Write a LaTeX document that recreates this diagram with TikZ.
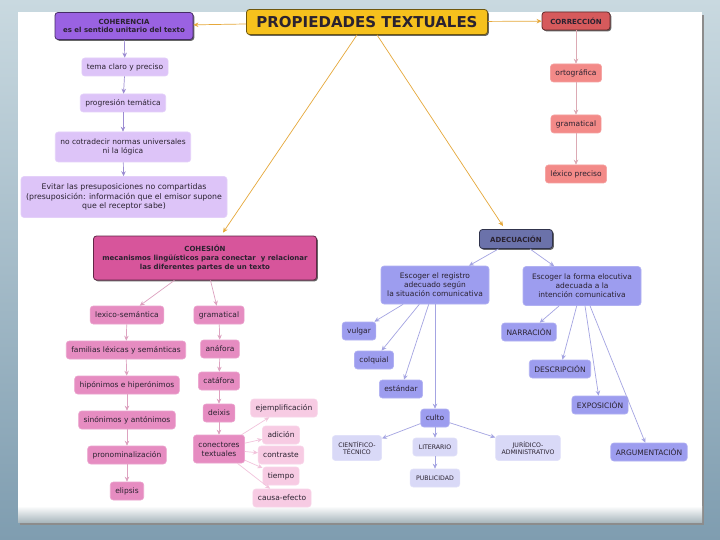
\documentclass[tikz,border=0pt]{standalone}
\usepackage{fontspec}
\setmainfont{DejaVu Sans}
\usetikzlibrary{shadows,calc,arrows.meta}

\definecolor{fondoA}{HTML}{C9D9E0}
\definecolor{fondoB}{HTML}{7F9DB0}
\definecolor{amarillo}{HTML}{F6C11D}
\definecolor{naranja}{HTML}{E6A83A}
\definecolor{morado}{HTML}{9A62E2}
\definecolor{moradoC}{HTML}{DDC4F8}
\definecolor{flechaM}{HTML}{9C8CD2}
\definecolor{rojo}{HTML}{D65A5C}
\definecolor{salmon}{HTML}{F38A88}
\definecolor{flechaR}{HTML}{DCAAB4}
\definecolor{rosa}{HTML}{D7559B}
\definecolor{rosaM}{HTML}{E68CC1}
\definecolor{rosaC}{HTML}{F7CBE3}
\definecolor{flechaP}{HTML}{DDA2C0}
\definecolor{pizarra}{HTML}{6B72AA}
\definecolor{azulM}{HTML}{9D9DEF}
\definecolor{azulC}{HTML}{D9D9F7}
\definecolor{flechaA}{HTML}{A4A4E2}
\definecolor{tinta}{HTML}{2A2230}

\begin{document}
\begin{tikzpicture}[x=1pt,y=-1pt,>={Stealth[length=5pt,width=4.5pt]},
  caja/.style={rounded corners=3pt, align=center, inner xsep=5pt, inner ysep=2pt, text=tinta,
    minimum height=18pt, font=\fontsize{7.5}{9}\selectfont},
  jefe/.style={caja, draw=#1!45!black, line width=0.8pt, fill=#1,
    drop shadow={shadow xshift=1.3pt, shadow yshift=-1.3pt, fill=black!75, opacity=0.8},
    font=\fontsize{7}{8.6}\selectfont\bfseries},
  hoja/.style={caja, fill=#1, draw=#1!80!white, line width=0.6pt},
  mini/.style={hoja=azulC, inner xsep=6pt, font=\fontsize{6.2}{7.4}\selectfont},
  flecha/.style={->, draw=#1, line width=0.7pt}
]
% fondo y hoja blanca
\shade[top color=fondoA, bottom color=fondoB] (0,0) rectangle (720,540);
\fill[black!45] (20,15) rectangle (704,525);
\fill[white] (18,12) rectangle (702,522);
\shade[top color=white, bottom color=fondoA!85!black] (18,506) rectangle (702,522);

% titulo
\node[jefe=amarillo, font=\fontsize{15}{17}\selectfont\bfseries, minimum width=241pt, minimum height=25pt]
  (titulo) at (367,22) {PROPIEDADES TEXTUALES};

% coherencia
\node[jefe=morado, minimum width=138pt, minimum height=27pt] (coh) at (124,26)
  {COHERENCIA\\es el sentido unitario del texto};
\node[hoja=moradoC] (coh1) at (125,67) {tema claro y preciso};
\node[hoja=moradoC] (coh2) at (123,103) {progresión temática};
\node[hoja=moradoC, minimum height=30pt] (coh3) at (123,147) {no cotradecir normas universales\\ni la lógica};
\node[hoja=moradoC, minimum width=206pt, minimum height=41pt, font=\fontsize{7.8}{9.4}\selectfont] (coh4) at (124,197)
  {Evitar las presuposiciones no compartidas\\(presuposición: información que el emisor supone\\que el receptor sabe)};

% correccion
\node[jefe=rojo, minimum width=68pt] (cor) at (576,21) {CORRECCIÓN};
\node[hoja=salmon] (cor1) at (576,73) {ortográfica};
\node[hoja=salmon] (cor2) at (576,124) {gramatical};
\node[hoja=salmon] (cor3) at (576,174) {léxico preciso};

% cohesion
\node[jefe=rosa, minimum width=223pt, minimum height=44pt] (coe) at (205,258)
  {COHESIÓN\\mecanismos lingüísticos para conectar~ y relacionar\\las diferentes partes de un texto};
\node[hoja=rosaM] (lex) at (127,315) {lexico-semántica};
\node[hoja=rosaM] (lex1) at (126,350) {familias léxicas y semánticas};
\node[hoja=rosaM] (lex2) at (127,385) {hipónimos e hiperónimos};
\node[hoja=rosaM] (lex3) at (127,420) {sinónimos y antónimos};
\node[hoja=rosaM] (lex4) at (127,455) {pronominalización};
\node[hoja=rosaM] (lex5) at (127,491) {elipsis};
\node[hoja=rosaM] (gra) at (219,315) {gramatical};
\node[hoja=rosaM] (gra1) at (220,349) {anáfora};
\node[hoja=rosaM] (gra2) at (219,381) {catáfora};
\node[hoja=rosaM] (gra3) at (219,413) {deixis};
\node[hoja=rosaM, minimum height=28pt] (gra4) at (219,449) {conectores\\textuales};
\node[hoja=rosaC] (con1) at (284,408) {ejemplificación};
\node[hoja=rosaC] (con2) at (281,435) {adición};
\node[hoja=rosaC] (con3) at (281,455) {contraste};
\node[hoja=rosaC] (con4) at (281,476) {tiempo};
\node[hoja=rosaC] (con5) at (282,498) {causa-efecto};

% adecuacion
\node[jefe=pizarra, minimum width=73pt, minimum height=19pt] (ade) at (516,239) {ADECUACIÓN};
\node[hoja=azulM, minimum width=108pt, minimum height=38pt] (reg) at (435,285)
  {Escoger el registro\\adecuado según\\la situación comunicativa};
\node[hoja=azulM, minimum width=118pt, minimum height=39pt] (for) at (582,286)
  {Escoger la forma elocutiva\\adecuada a la\\intención comunicativa};
\node[hoja=azulM] (reg1) at (359,331) {vulgar};
\node[hoja=azulM] (reg2) at (374,360) {colquial};
\node[hoja=azulM] (reg3) at (401,389) {estándar};
\node[hoja=azulM] (reg4) at (435,418) {culto};
\node[mini, minimum height=25pt] (cul1) at (357,448) {CIENTÍFICO-\\TÉCNICO};
\node[mini] (cul2) at (435,447) {LITERARIO};
\node[mini, minimum height=25pt] (cul3) at (528,448) {JURÍDICO-\\ADMINISTRATIVO};
\node[mini] (cul4) at (435,478) {PUBLICIDAD};
\node[hoja=azulM] (for1) at (529,332) {NARRACIÓN};
\node[hoja=azulM] (for2) at (560,369) {DESCRIPCIÓN};
\node[hoja=azulM] (for3) at (600,405) {EXPOSICIÓN};
\node[hoja=azulM] (for4) at (649,452) {ARGUMENTACIÓN};

% flechas
\draw[flecha=naranja] (titulo) -- (coh);
\draw[flecha=naranja] (titulo) -- (cor);
\draw[flecha=naranja] ($(titulo.south)+(-10,0)$) -- ($(coe.north)+(18,-3)$);
\draw[flecha=naranja] ($(titulo.south)+(10,0)$) -- ($(ade.north)+(-13,-3)$);

\foreach \a/\b in {coh/coh1,coh1/coh2,coh2/coh3,coh3/coh4}
  \draw[flecha=flechaM] (\a) -- (\b);
\foreach \a/\b in {cor/cor1,cor1/cor2,cor2/cor3}
  \draw[flecha=flechaR] (\a) -- (\b);
\foreach \a/\b in {coe/lex,coe/gra,lex/lex1,lex1/lex2,lex2/lex3,lex3/lex4,lex4/lex5,gra/gra1,gra1/gra2,gra2/gra3,gra3/gra4}
  \draw[flecha=flechaP] (\a) -- (\b);
\foreach \b in {con1,con2,con3,con4,con5}
  \draw[flecha=rosaC!80!flechaP] (gra4) -- (\b);
\foreach \a/\b in {ade/reg,ade/for,reg/reg1,reg/reg2,reg/reg3,reg/reg4,for/for1,for/for2,for/for3,for/for4,reg4/cul1,reg4/cul2,reg4/cul3,cul2/cul4}
  \draw[flecha=flechaA] (\a) -- (\b);
\end{tikzpicture}
\end{document}
